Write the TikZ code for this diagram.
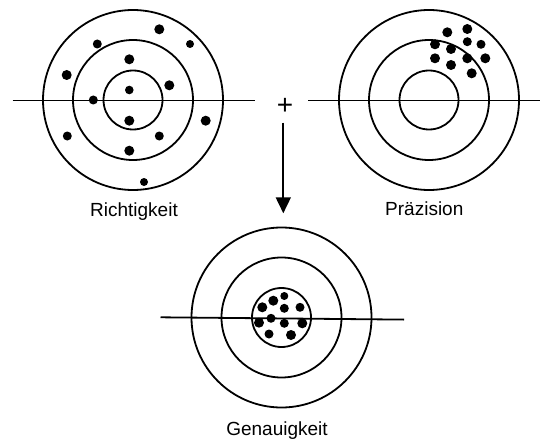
\documentclass[tikz,border=0pt]{standalone}
\usepackage{fontspec}
\setmainfont{Liberation Sans}
\usetikzlibrary{arrows.meta}

\begin{document}
\begin{tikzpicture}[x=1pt,y=-1pt,
    ring/.style={line width=1.8pt},
    dot/.style={fill=black},
    lbl/.style={anchor=base,font=\fontsize{19}{22}\selectfont}]
  \useasboundingbox (0,0) rectangle (540,441);
  \coordinate (t1) at (133,100);
  \coordinate (t2) at (429,100);
  \coordinate (t3) at (281.5,317.5);
  \foreach \t in {t1,t2,t3}
    \foreach \r in {29.5,60,90}
      \draw[ring] (\t) circle[radius=\r];
  % cross lines
  \draw[ring] (12.7,100.5) -- (255,100.5);
  \draw[ring] (308.3,100.5) -- (540,100.5);
  \draw[ring] (160.5,317.3) -- (404,319.6);
  % hits
  \foreach \x/\y/\r [count=\i] in {159.3/29.3/5,97.3/44/4.5,190/44/4,129.3/59.3/5,
      66.7/75/5,169.3/85.3/5,129.3/90/4.3,93.3/100/4.5,129.3/120.7/5,205.7/120.7/5,
      67.3/136/4.5,159.3/136/4.5,129.3/150.7/5,144/182/4}
    \fill[dot] (\x,\y) circle[radius=\r];
  \foreach \x/\y/\r [count=\i] in {447.3/32.3/5,467.3/29/5,435/44.3/5,467.3/41.7/4.5,
      481/44.3/4.5,451/49/5,435/58.3/5,467.3/58.3/5,485.3/58.3/5,451/65/5,471.7/73.3/5}
    \fill[dot] (\x,\y) circle[radius=\r];
  \foreach \x/\y/\r [count=\i] in {273.3/300.7/5,284.3/296/4,262.3/307.3/5,284.3/308.3/4.5,
      300/307.3/4.5,271/318.3/4.5,259/322.7/5,284.3/323.3/4.5,302.3/323.3/5,269/334/4.5,291/335/5}
    \fill[dot] (\x,\y) circle[radius=\r];
  \node[lbl] (richtig) at (134,216.7) {Richtigkeit};
  \node[lbl] (praez) at (424.3,215) {Präzision};
  \node[lbl] (genau) at (277,435) {Genauigkeit};
  \node[font=\fontsize{28}{28}\selectfont,inner sep=0pt] (plus) at (285,106) {+};
  \coordinate (down) at (283.3,122.7);
  \coordinate (tip) at (283.3,213.3);
  \draw[ring,-{Triangle[width=15pt,length=16pt]}] (down) -- (tip);
\end{tikzpicture}
\end{document}
